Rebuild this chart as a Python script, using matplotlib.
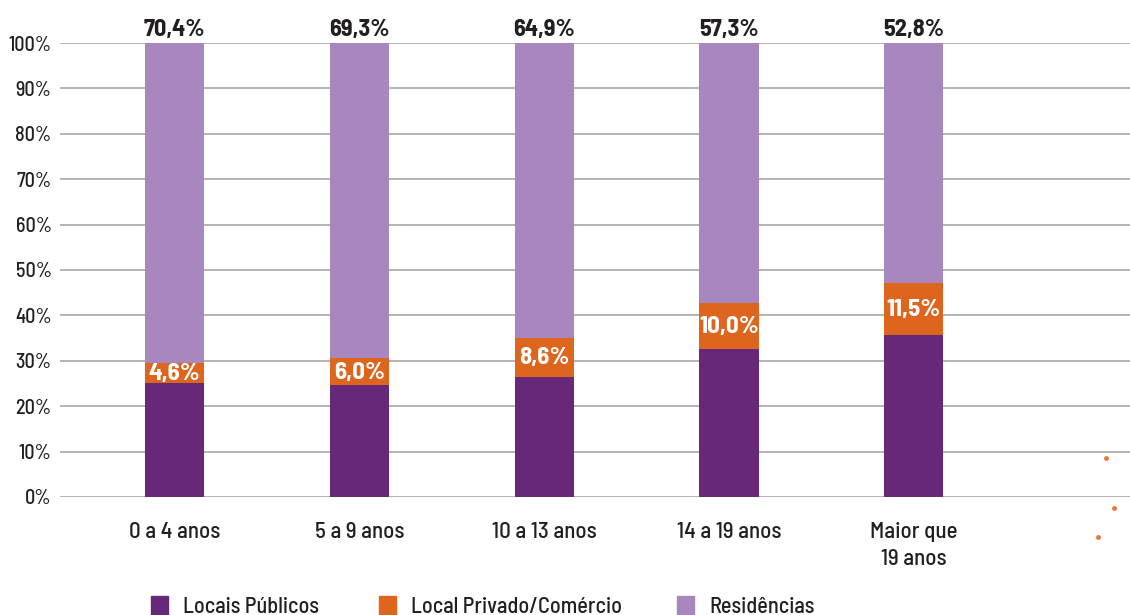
import numpy as np
import matplotlib.pyplot as plt
from matplotlib.patches import Rectangle

plt.rcParams['font.family'] = ['Barlow Semi Condensed', 'DejaVu Sans']
plt.rcParams['font.weight'] = 500

categories = ['0 a 4 anos', '5 a 9 anos', '10 a 13 anos', '14 a 19 anos', 'Maior que\n19 anos']
privado = [4.6, 6.0, 8.6, 10.0, 11.5]
residencias = [70.4, 69.3, 64.9, 57.3, 52.8]
publicos = [100 - p - r for p, r in zip(privado, residencias)]
privado_labels = ['4,6%', '6,0%', '8,6%', '10,0%', '11,5%']
residencias_labels = ['70,4%', '69,3%', '64,9%', '57,3%', '52,8%']
series_names = ['Locais Públicos', 'Local Privado/Comércio', 'Residências']

c_pub = '#68287a'
c_priv = '#de651e'
c_res = '#a887bf'
txt = '#231f20'

fig = plt.figure(figsize=(11.3, 6.15), dpi=100)
ax = fig.add_axes([0.053, 0.192, 0.947, 0.738])

x = np.arange(len(categories))
w = 0.32
ax.bar(x, publicos, w, color=c_pub, zorder=3)
ax.bar(x, privado, w, bottom=publicos, color=c_priv, zorder=3)
bottom2 = [a + b for a, b in zip(publicos, privado)]
ax.bar(x, residencias, w, bottom=bottom2, color=c_res, zorder=3)

for i in range(len(x)):
    ax.text(x[i], publicos[i] + privado[i] / 2 - 0.3, privado_labels[i], ha='center', va='center',
            color='white', fontsize=18, fontweight='bold', zorder=4)
    ax.text(x[i], 101.5, residencias_labels[i], ha='center', va='baseline',
            color=txt, fontsize=17.5, fontweight='bold')

ax.set_xlim(-0.62, 5.17)
ax.set_ylim(0, 100)
ax.set_yticks(np.arange(0, 101, 10))
ax.set_yticklabels([f'{v}%' for v in range(0, 101, 10)], fontsize=14.5, color=txt)
ax.set_xticks(x)
ax.set_xticklabels(categories, fontsize=16.5, color=txt, va='top', linespacing=1.45)
ax.tick_params(axis='both', length=0)
ax.tick_params(axis='x', pad=18)
ax.tick_params(axis='y', pad=6)
ax.grid(axis='y', color='#b8b2b2', linewidth=1.4, zorder=0)
for s in ax.spines.values():
    s.set_visible(False)

# legend, drawn by hand to match the spacing
leg_colors = [c_pub, c_priv, c_res]
leg_x = [151, 379, 677]
for name, col, lx in zip(series_names, leg_colors, leg_x):
    fig.patches.append(Rectangle((lx / 1130, 1 - 615 / 615), 17 / 1130, 19 / 615,
                                 transform=fig.transFigure, color=col))
    fig.text((lx + 32) / 1130, 1 - 613 / 615, name, fontsize=16, color=txt, va='baseline')

# small orange dots at the lower right edge
dot_x = [1106, 1114, 1098]
dot_y = [458, 508, 537]
fig.add_artist(plt.Line2D([v / 1130 for v in dot_x], [1 - v / 615 for v in dot_y],
                          transform=fig.transFigure, linestyle='none', marker='o',
                          markersize=2.5, color='#e8793a'))

fig.savefig('out.png', dpi=100)
